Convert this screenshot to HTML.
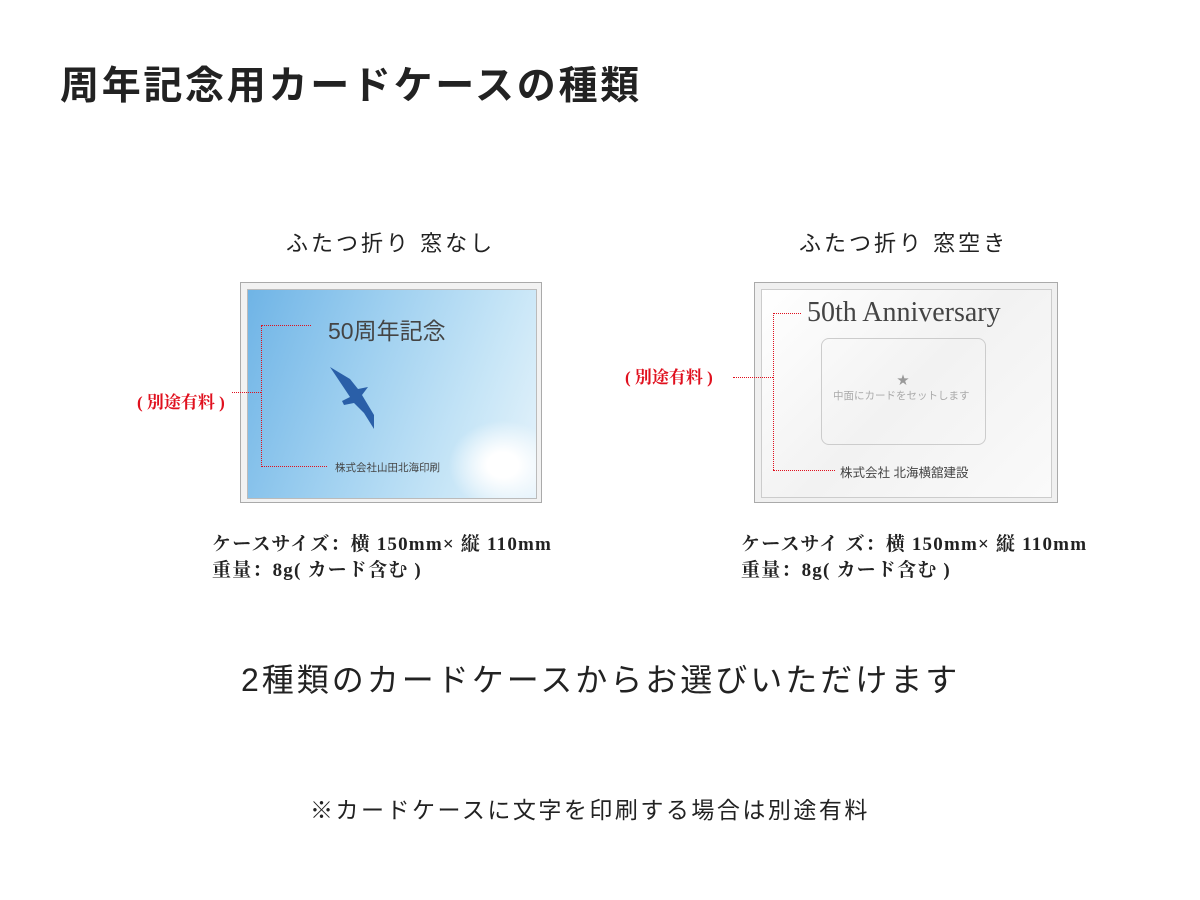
<!DOCTYPE html>
<html><head><meta charset="utf-8"><style>
body{margin:0;width:1200px;height:900px;background:#fff;position:relative;overflow:hidden;font-family:"Liberation Sans","Noto Sans CJK JP",sans-serif;color:#222}
.a{position:absolute;white-space:nowrap}
.serif{font-family:"Liberation Serif","Noto Serif CJK SC",serif;font-weight:bold}
.red{color:#e0101e}
.dv{position:absolute;border-left:1.5px dotted #e0101e}
.dh{position:absolute;border-top:1.5px dotted #e0101e}
</style></head><body>
<div class="a" style="left:60px;top:55px;font-size:39px;font-weight:bold;letter-spacing:2.7px">周年記念用カードケースの種類</div>
<div class="a" style="left:286px;top:226px;font-size:22px;letter-spacing:3px">ふたつ折り 窓なし</div>
<div class="a" style="left:799px;top:226px;font-size:22px;letter-spacing:3px">ふたつ折り 窓空き</div>

<!-- left card -->
<div class="a" style="left:240px;top:282px;width:300px;height:219px;border:1px solid #aaa;background:#f2f2f2"></div>
<div class="a" style="left:247px;top:289px;width:288px;height:208px;border:1px solid #bbb;background:linear-gradient(110deg,#6fb4e6 0%,#9fd0f0 40%,#c8e6f7 75%,#e6f3fb 100%);overflow:hidden">
<div class="a" style="left:200px;top:130px;width:110px;height:90px;border-radius:50%;background:radial-gradient(#fff 20%,rgba(255,255,255,0) 70%)"></div>
</div>
<div class="a" style="left:328px;top:312px;font-size:23px;color:#444">50周年記念</div>
<svg class="a" style="left:328px;top:365px" width="52" height="66"><path d="M2 2 L22 14 L30 24 L40 22 L34 30 L46 50 L46 64 L36 48 L26 38 L16 40 L14 36 L22 32 Z" fill="#2a5fa8"/></svg>
<div class="a" style="left:335px;top:460px;font-size:10.5px;color:#444">株式会社山田北海印刷</div>
<div class="dv" style="left:261px;top:325px;height:142px"></div>
<div class="dh" style="left:261px;top:325px;width:50px"></div>
<div class="dh" style="left:261px;top:466px;width:66px"></div>
<div class="dh" style="left:232px;top:392px;width:29px"></div>
<div class="a serif red" style="left:137px;top:388px;font-size:17px">( 別途有料 )</div>

<!-- right card -->
<div class="a" style="left:754px;top:282px;width:302px;height:219px;border:1px solid #aaa;background:#f0f0f0"></div>
<div class="a" style="left:761px;top:289px;width:289px;height:207px;border:1px solid #ccc;background:linear-gradient(135deg,#fff 0%,#f2f2f2 50%,#fafafa 100%)"></div>
<div class="a" style="left:807px;top:297px;font-size:28px;color:#444;font-family:'Liberation Serif',serif">50th Anniversary</div>
<div class="a" style="left:821px;top:338px;width:163px;height:105px;border:1px solid #ccc;border-radius:8px"></div>
<div class="a" style="left:897px;top:371px;font-size:12px;color:#999">★</div>
<div class="a" style="left:833px;top:388px;font-size:10.5px;color:#aaa">中面にカードをセットします</div>
<div class="a" style="left:840px;top:462px;font-size:12.5px;color:#444">株式会社 北海横舘建設</div>
<div class="dv" style="left:773px;top:313px;height:157px"></div>
<div class="dh" style="left:773px;top:313px;width:28px"></div>
<div class="dh" style="left:773px;top:470px;width:62px"></div>
<div class="dh" style="left:733px;top:377px;width:40px"></div>
<div class="a serif red" style="left:625px;top:363px;font-size:17px">( 別途有料 )</div>

<div class="a serif" style="left:212px;top:532px;font-size:19px;line-height:26px;letter-spacing:1.2px">ケースサイズ：横 150mm× 縦 110mm<br>重量：8g( カード含む )</div>
<div class="a serif" style="left:741px;top:532px;font-size:19px;line-height:26px;letter-spacing:1.2px">ケースサイ ズ：横 150mm× 縦 110mm<br>重量：8g( カード含む )</div>

<div class="a" style="left:241px;top:655px;font-size:32px;letter-spacing:3px">2種類のカードケースからお選びいただけます</div>
<div class="a" style="left:310px;top:791px;font-size:23px;letter-spacing:2.5px">※カードケースに文字を印刷する場合は別途有料</div>
</body></html>
